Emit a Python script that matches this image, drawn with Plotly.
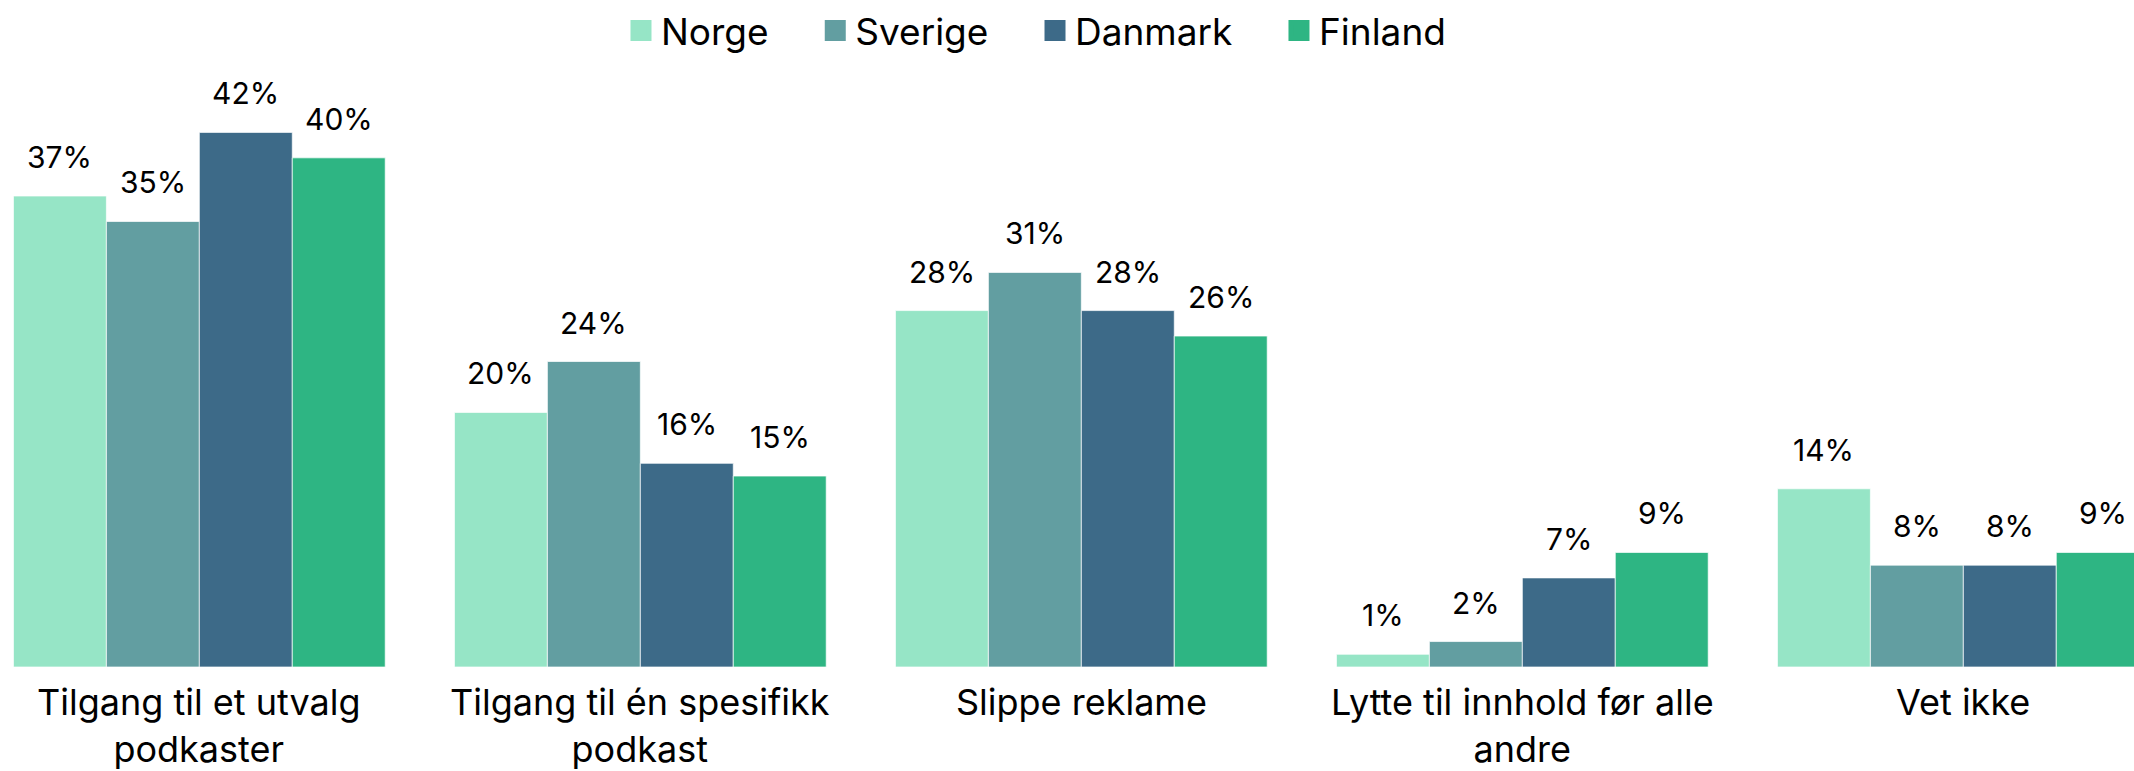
import plotly.graph_objects as go

categories = ["Tilgang til et utvalg<br>podkaster", "Tilgang til én spesifikk<br>podkast",
              "Slippe reklame", "Lytte til innhold før alle<br>andre", "Vet ikke"]
series_names = ["Norge", "Sverige", "Danmark", "Finland"]
norge = [37, 20, 28, 1, 14]
sverige = [35, 24, 31, 2, 8]
danmark = [42, 16, 28, 7, 8]
finland = [40, 15, 26, 9, 9]
values = [norge, sverige, danmark, finland]
colors = ["#96E5C6", "#629EA1", "#3D6A88", "#2EB583"]

FONT = "Inter, Roboto, sans-serif"
bargap = 0.157
n = len(series_names)
PAD = "\u00a0" * 4  # spacing after each legend entry

fig = go.Figure()
for name, vals, col in zip(series_names, values, colors):
    fig.add_trace(go.Bar(
        name=name, x=categories, y=vals, marker_color=col, showlegend=False,
        marker_line=dict(color="rgba(255,255,255,0.7)", width=1),
    ))
# legend entries with larger square symbols
for name, col in zip(series_names, colors):
    fig.add_trace(go.Scatter(
        name=name + PAD, x=[None], y=[None], mode="markers",
        marker=dict(symbol="square", size=16, color=col, line=dict(color=col, width=5)),
    ))

# data labels above each bar
w = 1 - bargap
for j, vals in enumerate(values):
    off = -w / 2 + w / (2 * n) + j * w / n
    for i, v in enumerate(vals):
        fig.add_annotation(x=i + off, y=v, xref="x", yref="y", text=f"{v}%",
                           showarrow=False, yanchor="bottom", yshift=19,
                           font=dict(family=FONT, size=30, color="black"))

# category labels under each group
for cat in categories:
    fig.add_annotation(x=cat, y=0, xref="x", yref="paper", text=cat,
                       showarrow=False, yanchor="top", yshift=-12, borderpad=0,
                       font=dict(family=FONT, size=36, color="black"))

fig.update_layout(
    width=2134, height=771,
    margin=dict(l=0, r=0, t=0, b=104),
    barmode="group", bargap=bargap, bargroupgap=0,
    plot_bgcolor="white", paper_bgcolor="white",
    font=dict(family=FONT, color="black"),
    legend=dict(orientation="h", x=0.291, xanchor="left", y=1.0, yanchor="top",
                font=dict(size=37, family=FONT), itemsizing="trace",
                bgcolor="rgba(0,0,0,0)"),
    xaxis=dict(range=[-0.452, 4.387], showgrid=False, showline=False, ticks="",
               showticklabels=False, automargin=False),
    yaxis=dict(range=[0, 52.4], visible=False, showgrid=False, zeroline=False,
               automargin=False),
)

fig.write_html("out.html", config={"displayModeBar": False},
               post_script="document.body.style.margin='0';document.body.style.overflow='hidden';")
